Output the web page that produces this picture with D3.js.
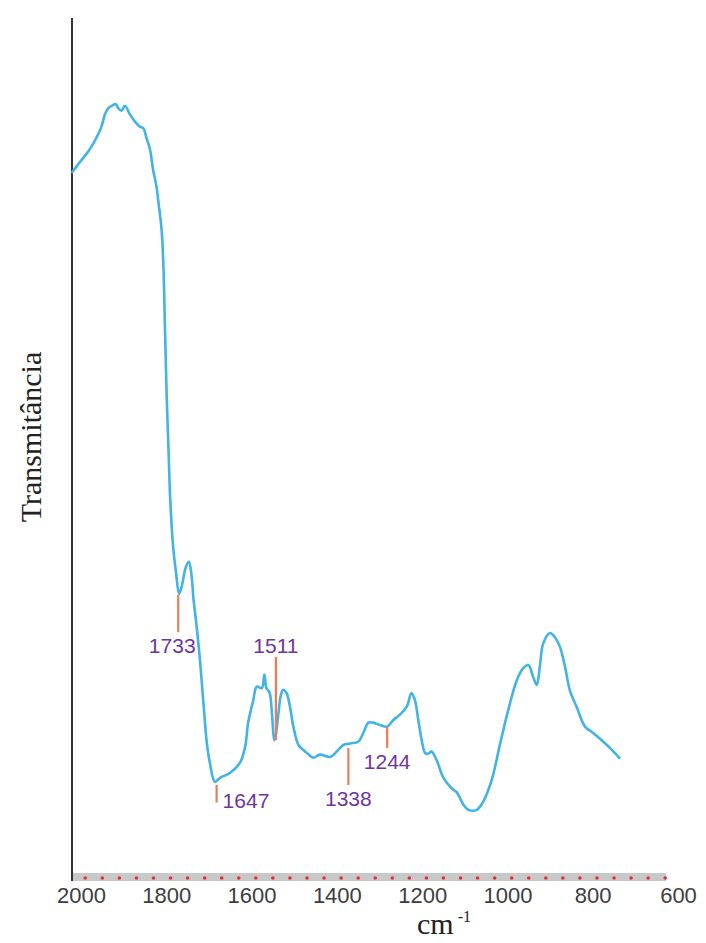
<!DOCTYPE html>
<html>
<head>
<meta charset="utf-8">
<script src="https://cdn.jsdelivr.net/npm/d3@7"></script>
<style>
  body { margin: 0; background: #fff; }
</style>
</head>
<body>
<div id="chart"></div>
<script>
// spectrum (x in axis units, y as arbitrary transmittance 0-100)
const wavenumber = [2022, 2002, 1983, 1971, 1963, 1952, 1944, 1936, 1928, 1918, 1913, 1905, 1897, 1885,
  1873, 1862, 1854, 1846, 1838, 1831, 1823, 1819, 1811, 1807, 1803, 1799, 1795, 1791, 1784, 1777,
  1770, 1763, 1755, 1747, 1741, 1736, 1730, 1721, 1713, 1705, 1698, 1686, 1674, 1651, 1627, 1615,
  1608, 1596, 1588, 1576, 1570, 1565, 1558, 1552, 1547, 1543, 1537, 1531, 1526, 1518, 1510, 1502,
  1490, 1479, 1468, 1455, 1440, 1416, 1400, 1385, 1369, 1350, 1338, 1326, 1315, 1299, 1282, 1268,
  1252, 1236, 1225, 1217, 1209, 1201, 1193, 1186, 1178, 1166, 1150, 1131, 1119, 1104, 1092, 1072,
  1057, 1037, 1017, 998, 978, 963, 951, 939, 931, 924, 916, 900, 889, 877, 865, 853, 838, 818, 799,
  779, 755, 736];
const transmittance = [88.5, 89.9, 91.2, 92.2, 93.0, 94.3, 95.8, 96.6, 96.9, 97.1, 96.6, 96.3, 96.9, 95.8,
  94.9, 94.3, 94.1, 92.8, 91.4, 88.9, 86.8, 85.1, 81.4, 77.3, 68.9, 60.5, 54.3, 48.0, 41.8, 38.5,
  35.9, 37.0, 39.1, 39.9, 38.3, 35.1, 32.4, 27.6, 22.3, 17.3, 14.8, 12.4, 12.9, 13.5, 14.8, 16.8,
  19.8, 22.6, 24.3, 24.1, 25.8, 24.1, 23.6, 20.8, 17.6, 18.3, 21.0, 23.3, 23.9, 23.5, 21.8, 19.3,
  17.0, 16.4, 15.9, 15.4, 15.8, 15.5, 16.2, 17.0, 17.2, 17.4, 18.5, 19.8, 19.8, 19.5, 19.3, 20.1,
  20.8, 21.8, 23.5, 22.6, 20.1, 17.6, 16.0, 15.9, 16.2, 15.1, 12.9, 11.6, 11.1, 9.6, 8.9, 8.9,
  9.9, 12.6, 17.2, 21.4, 25.1, 26.6, 27.0, 25.4, 24.5, 26.8, 29.7, 31.0, 30.5, 29.3, 26.8, 23.7, 21.8, 19.3, 18.5,
  17.6, 16.4, 15.3];

const tickValues = [2000, 1800, 1600, 1400, 1200, 1000, 800, 600];
const dotValues = d3.range(1990, 620, -40);

const peakLabels = ["1733", "1647", "1511", "1338", "1244"];
const peakPositions = [1772, 1682, 1543, 1373, 1282];
const peakTickTop = [35.8, 12.0, 28.0, 16.6, 19.3];
const peakTickBottom = [31.1, 9.8, 17.6, 12.0, 16.6];
const peakLabelSide = ["below", "right", "above", "below", "below"];

const W = 706, H = 943;
const plotLeft = 72, plotRight = 666, plotTop = 18, plotBottom = 881;

const svg = d3.select("#chart").append("svg")
  .attr("width", W)
  .attr("height", H);

const x = d3.scaleLinear().domain([2000, 600]).range([81, 678]);
const y = d3.scaleLinear().domain([0, 100]).range([plotBottom, 81]);

// grey baseline strip with red dots
svg.append("rect")
  .attr("x", plotLeft)
  .attr("y", plotBottom - 8)
  .attr("width", plotRight - plotLeft)
  .attr("height", 8)
  .attr("fill", "#c8c8c8");

svg.append("g").selectAll("circle")
  .data(dotValues)
  .join("circle")
  .attr("cx", d => x(d))
  .attr("cy", plotBottom - 3)
  .attr("r", 1.8)
  .attr("fill", "#e0303a");

// left axis line
svg.append("line")
  .attr("x1", plotLeft).attr("x2", plotLeft)
  .attr("y1", plotTop).attr("y2", plotBottom)
  .attr("stroke", "#333")
  .attr("stroke-width", 2);

// bottom tick labels
const xAxis = svg.append("g")
  .attr("transform", `translate(0,${plotBottom})`)
  .call(d3.axisBottom(x).tickValues(tickValues).tickSize(0).tickPadding(6).tickFormat(d3.format("d")));
xAxis.select(".domain").remove();
xAxis.selectAll("text")
  .attr("fill", "#3d3d3d")
  .style("font-family", "'Liberation Sans', Arial, sans-serif")
  .style("font-size", "22px");

// axis titles
svg.append("text")
  .attr("transform", "translate(41,437) rotate(-90)")
  .attr("text-anchor", "middle")
  .style("font-family", "'Liberation Serif', 'Times New Roman', serif")
  .style("font-size", "30px")
  .attr("fill", "#222")
  .text("Transmitância");

const unit = svg.append("text")
  .attr("x", 417)
  .attr("y", 934)
  .style("font-family", "'Liberation Serif', 'Times New Roman', serif")
  .style("font-size", "30px")
  .attr("fill", "#222");
unit.append("tspan").text("cm");
unit.append("tspan")
  .attr("dx", 4)
  .attr("dy", -12)
  .style("font-size", "16px")
  .text("-1");

// spectrum
const spectrum = wavenumber.map((w, i) => ({ w: w, t: transmittance[i] }));
const line = d3.line()
  .x(d => x(d.w))
  .y(d => y(d.t))
  .curve(d3.curveCatmullRom.alpha(0.5));

svg.append("path")
  .datum(spectrum)
  .attr("fill", "none")
  .attr("stroke", "#41b4e6")
  .attr("stroke-width", 2.6)
  .attr("stroke-linejoin", "round")
  .attr("d", line);

// peak markers
const peaks = peakLabels.map((label, i) => ({
  label: label,
  w: peakPositions[i],
  top: peakTickTop[i],
  bottom: peakTickBottom[i],
  side: peakLabelSide[i]
}));

const marks = svg.append("g").selectAll("g")
  .data(peaks)
  .join("g");

marks.append("line")
  .attr("x1", d => x(d.w)).attr("x2", d => x(d.w))
  .attr("y1", d => y(d.top)).attr("y2", d => y(d.bottom))
  .attr("stroke", "#f07a55")
  .attr("stroke-width", 2.2);

marks.append("text")
  .attr("x", d => d.side === "right" ? x(d.w) + 6 : x(d.w) - (d.label === "1733" ? 6 : 0))
  .attr("y", d => {
    if (d.side === "above") return y(d.top) - 4;
    if (d.side === "right") return y(d.bottom) + 5;
    return y(d.bottom) + 21;
  })
  .attr("text-anchor", d => d.side === "right" ? "start" : "middle")
  .attr("fill", "#6e35a0")
  .style("font-family", "'Liberation Sans', Arial, sans-serif")
  .style("font-size", "21px")
  .text(d => d.label);
</script>
</body>
</html>
